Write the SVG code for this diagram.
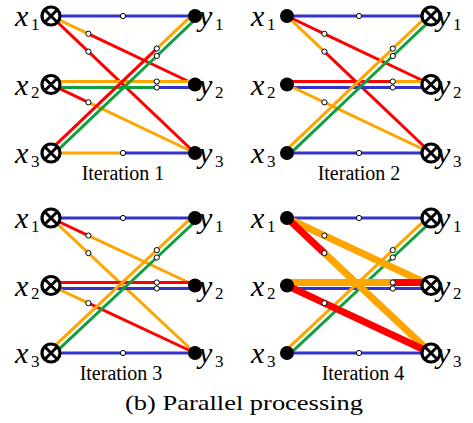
<svg xmlns="http://www.w3.org/2000/svg" width="473" height="423" viewBox="0 0 473 423">
<style>
.e line{fill:none;stroke-width:3;stroke-linecap:butt}
.b{stroke:#3333cc}.r{stroke:#ff0000}.o{stroke:#ffa500}.g{stroke:#10a040}
line.t{stroke-width:7}
</style>
<defs>
<g id="ot"><circle r="9" fill="#fff" stroke="#000" stroke-width="3.2"/><path d="M-5.5,-5.5L5.5,5.5M5.5,-5.5L-5.5,5.5" stroke="#000" stroke-width="3"/></g>
<circle id="fd" r="7" fill="#000"/>
<circle id="dt" r="2.6" fill="#fff" stroke="#000" stroke-width="1"/>
</defs>
<rect width="473" height="423" fill="#fff"/>

<g id="panel1">
<g id="p1-connectors" class="e">
<line class="b" x1="51" y1="16" x2="123" y2="16"/><line class="b" x1="123" y1="16" x2="195" y2="16"/>
<line class="o" x1="51" y1="16" x2="88.4" y2="33.8"/><line class="r" x1="88.4" y1="33.8" x2="195" y2="84.5"/>
<line class="r" x1="51" y1="16" x2="88.4" y2="51.6"/><line class="r" x1="88.4" y1="51.6" x2="195" y2="153"/>
<line class="o" x1="51" y1="81.5" x2="156.8" y2="81.5"/><line class="o" x1="156.8" y1="81.5" x2="195" y2="81.5"/>
<line class="g" x1="51" y1="87.5" x2="156.8" y2="87.5"/><line class="b" x1="156.8" y1="87.5" x2="195" y2="87.5"/>
<line class="r" x1="51" y1="84.5" x2="88.4" y2="102.3"/><line class="o" x1="88.4" y1="102.3" x2="195" y2="153"/>
<line class="r" x1="51" y1="149.3" x2="156.8" y2="48.6"/><line class="o" x1="156.8" y1="48.6" x2="195" y2="12.3"/>
<line class="g" x1="51" y1="156.7" x2="156.8" y2="56"/><line class="g" x1="156.8" y1="56" x2="195" y2="19.7"/>
<line class="o" x1="51" y1="153" x2="123" y2="153"/><line class="b" x1="123" y1="153" x2="195" y2="153"/>
<use href="#dt" x="123" y="16"/><use href="#dt" x="88.4" y="33.8"/><use href="#dt" x="88.4" y="51.6"/>
<use href="#dt" x="156.8" y="81.5"/><use href="#dt" x="156.8" y="87.5"/><use href="#dt" x="88.4" y="102.3"/>
<use href="#dt" x="156.8" y="48.6"/><use href="#dt" x="156.8" y="56"/><use href="#dt" x="123" y="153"/>
</g>
<g id="p1-x1"><use href="#ot" x="51" y="16"/><text style="font-family:'Liberation Serif',serif;font-style:italic;font-size:30px" x="15" y="26">x</text><text style="font-family:'Liberation Serif',serif;font-size:17px" x="31" y="29.5">1</text></g>
<g id="p1-x2"><use href="#ot" x="51" y="84.5"/><text style="font-family:'Liberation Serif',serif;font-style:italic;font-size:30px" x="15" y="94.5">x</text><text style="font-family:'Liberation Serif',serif;font-size:17px" x="31" y="98">2</text></g>
<g id="p1-x3"><use href="#ot" x="51" y="153"/><text style="font-family:'Liberation Serif',serif;font-style:italic;font-size:30px" x="15" y="163">x</text><text style="font-family:'Liberation Serif',serif;font-size:17px" x="31" y="166.5">3</text></g>
<g id="p1-y1"><use href="#fd" x="195" y="16"/><text style="font-family:'Liberation Serif',serif;font-style:italic;font-size:30px" x="199" y="26">y</text><text style="font-family:'Liberation Serif',serif;font-size:17px" x="215" y="29.5">1</text></g>
<g id="p1-y2"><use href="#fd" x="195" y="84.5"/><text style="font-family:'Liberation Serif',serif;font-style:italic;font-size:30px" x="199" y="94.5">y</text><text style="font-family:'Liberation Serif',serif;font-size:17px" x="215" y="98">2</text></g>
<g id="p1-y3"><use href="#fd" x="195" y="153"/><text style="font-family:'Liberation Serif',serif;font-style:italic;font-size:30px" x="199" y="163">y</text><text style="font-family:'Liberation Serif',serif;font-size:17px" x="215" y="166.5">3</text></g>
<text style="font-family:'Liberation Serif',serif;font-size:20px" text-anchor="middle" x="123" y="179.5">Iteration 1</text>
</g>

<g id="panel2" transform="translate(236,0)">
<g id="p2-connectors" class="e">
<line class="b" x1="51" y1="16" x2="123" y2="16"/><line class="b" x1="123" y1="16" x2="195" y2="16"/>
<line class="r" x1="51" y1="16" x2="88.4" y2="33.8"/><line class="r" x1="88.4" y1="33.8" x2="195" y2="84.5"/>
<line class="o" x1="51" y1="16" x2="88.4" y2="51.6"/><line class="r" x1="88.4" y1="51.6" x2="195" y2="153"/>
<line class="r" x1="51" y1="81.5" x2="156.8" y2="81.5"/><line class="o" x1="156.8" y1="81.5" x2="195" y2="81.5"/>
<line class="b" x1="51" y1="87.5" x2="156.8" y2="87.5"/><line class="b" x1="156.8" y1="87.5" x2="195" y2="87.5"/>
<line class="o" x1="51" y1="84.5" x2="88.4" y2="102.3"/><line class="o" x1="88.4" y1="102.3" x2="195" y2="153"/>
<line class="o" x1="51" y1="149.3" x2="156.8" y2="48.6"/><line class="o" x1="156.8" y1="48.6" x2="195" y2="12.3"/>
<line class="g" x1="51" y1="156.7" x2="156.8" y2="56"/><line class="g" x1="156.8" y1="56" x2="195" y2="19.7"/>
<line class="b" x1="51" y1="153" x2="123" y2="153"/><line class="b" x1="123" y1="153" x2="195" y2="153"/>
<use href="#dt" x="123" y="16"/><use href="#dt" x="88.4" y="33.8"/><use href="#dt" x="88.4" y="51.6"/>
<use href="#dt" x="156.8" y="81.5"/><use href="#dt" x="156.8" y="87.5"/><use href="#dt" x="88.4" y="102.3"/>
<use href="#dt" x="156.8" y="48.6"/><use href="#dt" x="156.8" y="56"/><use href="#dt" x="123" y="153"/>
</g>
<g id="p2-x1"><use href="#fd" x="51" y="16"/><text style="font-family:'Liberation Serif',serif;font-style:italic;font-size:30px" x="15" y="26">x</text><text style="font-family:'Liberation Serif',serif;font-size:17px" x="31" y="29.5">1</text></g>
<g id="p2-x2"><use href="#fd" x="51" y="84.5"/><text style="font-family:'Liberation Serif',serif;font-style:italic;font-size:30px" x="15" y="94.5">x</text><text style="font-family:'Liberation Serif',serif;font-size:17px" x="31" y="98">2</text></g>
<g id="p2-x3"><use href="#fd" x="51" y="153"/><text style="font-family:'Liberation Serif',serif;font-style:italic;font-size:30px" x="15" y="163">x</text><text style="font-family:'Liberation Serif',serif;font-size:17px" x="31" y="166.5">3</text></g>
<g id="p2-y1"><use href="#ot" x="195" y="16"/><text style="font-family:'Liberation Serif',serif;font-style:italic;font-size:30px" x="201" y="26">y</text><text style="font-family:'Liberation Serif',serif;font-size:17px" x="217" y="29.5">1</text></g>
<g id="p2-y2"><use href="#ot" x="195" y="84.5"/><text style="font-family:'Liberation Serif',serif;font-style:italic;font-size:30px" x="201" y="94.5">y</text><text style="font-family:'Liberation Serif',serif;font-size:17px" x="217" y="98">2</text></g>
<g id="p2-y3"><use href="#ot" x="195" y="153"/><text style="font-family:'Liberation Serif',serif;font-style:italic;font-size:30px" x="201" y="163">y</text><text style="font-family:'Liberation Serif',serif;font-size:17px" x="217" y="166.5">3</text></g>
<text style="font-family:'Liberation Serif',serif;font-size:20px" text-anchor="middle" x="123" y="179.5">Iteration 2</text>
</g>

<g id="panel3">
<g id="p3-connectors" class="e">
<line class="b" x1="51" y1="218" x2="123" y2="218"/><line class="b" x1="123" y1="218" x2="195" y2="218"/>
<line class="r" x1="51" y1="218" x2="88.4" y2="235.6"/><line class="o" x1="88.4" y1="235.6" x2="195" y2="285.5"/>
<line class="o" x1="51" y1="218" x2="88.4" y2="253.1"/><line class="o" x1="88.4" y1="253.1" x2="195" y2="353"/>
<line class="r" x1="51" y1="282.5" x2="156.8" y2="282.5"/><line class="r" x1="156.8" y1="282.5" x2="195" y2="282.5"/>
<line class="b" x1="51" y1="288.5" x2="156.8" y2="288.5"/><line class="b" x1="156.8" y1="288.5" x2="195" y2="288.5"/>
<line class="o" x1="51" y1="285.5" x2="88.4" y2="303.1"/><line class="r" x1="88.4" y1="303.1" x2="195" y2="353"/>
<line class="o" x1="51" y1="349.3" x2="156.8" y2="250.1"/><line class="o" x1="156.8" y1="250.1" x2="195" y2="214.3"/>
<line class="g" x1="51" y1="356.7" x2="156.8" y2="257.5"/><line class="g" x1="156.8" y1="257.5" x2="195" y2="221.7"/>
<line class="b" x1="51" y1="353" x2="123" y2="353"/><line class="b" x1="123" y1="353" x2="195" y2="353"/>
<use href="#dt" x="123" y="218"/><use href="#dt" x="88.4" y="235.6"/><use href="#dt" x="88.4" y="253.1"/>
<use href="#dt" x="156.8" y="282.5"/><use href="#dt" x="156.8" y="288.5"/><use href="#dt" x="88.4" y="303.1"/>
<use href="#dt" x="156.8" y="250.1"/><use href="#dt" x="156.8" y="257.5"/><use href="#dt" x="123" y="353"/>
</g>
<g id="p3-x1"><use href="#ot" x="51" y="218"/><text style="font-family:'Liberation Serif',serif;font-style:italic;font-size:30px" x="15" y="228">x</text><text style="font-family:'Liberation Serif',serif;font-size:17px" x="31" y="231.5">1</text></g>
<g id="p3-x2"><use href="#ot" x="51" y="285.5"/><text style="font-family:'Liberation Serif',serif;font-style:italic;font-size:30px" x="15" y="295.5">x</text><text style="font-family:'Liberation Serif',serif;font-size:17px" x="31" y="299">2</text></g>
<g id="p3-x3"><use href="#ot" x="51" y="353"/><text style="font-family:'Liberation Serif',serif;font-style:italic;font-size:30px" x="15" y="363">x</text><text style="font-family:'Liberation Serif',serif;font-size:17px" x="31" y="366.5">3</text></g>
<g id="p3-y1"><use href="#fd" x="195" y="218"/><text style="font-family:'Liberation Serif',serif;font-style:italic;font-size:30px" x="199" y="228">y</text><text style="font-family:'Liberation Serif',serif;font-size:17px" x="215" y="231.5">1</text></g>
<g id="p3-y2"><use href="#fd" x="195" y="285.5"/><text style="font-family:'Liberation Serif',serif;font-style:italic;font-size:30px" x="199" y="295.5">y</text><text style="font-family:'Liberation Serif',serif;font-size:17px" x="215" y="299">2</text></g>
<g id="p3-y3"><use href="#fd" x="195" y="353"/><text style="font-family:'Liberation Serif',serif;font-style:italic;font-size:30px" x="199" y="363">y</text><text style="font-family:'Liberation Serif',serif;font-size:17px" x="215" y="366.5">3</text></g>
<text style="font-family:'Liberation Serif',serif;font-size:20px" text-anchor="middle" x="121" y="380">Iteration 3</text>
</g>

<g id="panel4" transform="translate(236,0)">
<g id="p4-connectors" class="e">
<line class="b" x1="51" y1="218" x2="123" y2="218"/><line class="b" x1="123" y1="218" x2="195" y2="218"/>
<line class="b" x1="51" y1="288.5" x2="156.8" y2="288.5"/><line class="b" x1="156.8" y1="288.5" x2="195" y2="288.5"/>
<line class="o" x1="51" y1="349.3" x2="156.8" y2="250.1"/><line class="o" x1="156.8" y1="250.1" x2="195" y2="214.3"/>
<line class="g" x1="51" y1="356.7" x2="156.8" y2="257.5"/><line class="g" x1="156.8" y1="257.5" x2="195" y2="221.7"/>
<line class="b" x1="51" y1="353" x2="123" y2="353"/><line class="b" x1="123" y1="353" x2="195" y2="353"/>
<line class="o t" x1="51" y1="218" x2="88.4" y2="235.6"/><line class="o t" x1="88.4" y1="235.6" x2="195" y2="285.5"/>
<line class="r t" x1="51" y1="218" x2="88.4" y2="253.1"/><line class="o t" x1="88.4" y1="253.1" x2="195" y2="353"/>
<line class="o t" x1="51" y1="282.5" x2="156.8" y2="282.5"/><line class="r t" x1="156.8" y1="282.5" x2="195" y2="282.5"/>
<line class="r t" x1="51" y1="285.5" x2="88.4" y2="303.1"/><line class="r t" x1="88.4" y1="303.1" x2="195" y2="353"/>
<use href="#dt" x="123" y="218"/><use href="#dt" x="88.4" y="235.6"/><use href="#dt" x="88.4" y="253.1"/>
<use href="#dt" x="156.8" y="282.5"/><use href="#dt" x="156.8" y="288.5"/><use href="#dt" x="88.4" y="303.1"/>
<use href="#dt" x="156.8" y="250.1"/><use href="#dt" x="156.8" y="257.5"/><use href="#dt" x="123" y="353"/>
</g>
<g id="p4-x1"><use href="#fd" x="51" y="218"/><text style="font-family:'Liberation Serif',serif;font-style:italic;font-size:30px" x="15" y="228">x</text><text style="font-family:'Liberation Serif',serif;font-size:17px" x="31" y="231.5">1</text></g>
<g id="p4-x2"><use href="#fd" x="51" y="285.5"/><text style="font-family:'Liberation Serif',serif;font-style:italic;font-size:30px" x="15" y="295.5">x</text><text style="font-family:'Liberation Serif',serif;font-size:17px" x="31" y="299">2</text></g>
<g id="p4-x3"><use href="#fd" x="51" y="353"/><text style="font-family:'Liberation Serif',serif;font-style:italic;font-size:30px" x="15" y="363">x</text><text style="font-family:'Liberation Serif',serif;font-size:17px" x="31" y="366.5">3</text></g>
<g id="p4-y1"><use href="#ot" x="195" y="218"/><text style="font-family:'Liberation Serif',serif;font-style:italic;font-size:30px" x="201" y="228">y</text><text style="font-family:'Liberation Serif',serif;font-size:17px" x="217" y="231.5">1</text></g>
<g id="p4-y2"><use href="#ot" x="195" y="285.5"/><text style="font-family:'Liberation Serif',serif;font-style:italic;font-size:30px" x="201" y="295.5">y</text><text style="font-family:'Liberation Serif',serif;font-size:17px" x="217" y="299">2</text></g>
<g id="p4-y3"><use href="#ot" x="195" y="353"/><text style="font-family:'Liberation Serif',serif;font-style:italic;font-size:30px" x="201" y="363">y</text><text style="font-family:'Liberation Serif',serif;font-size:17px" x="217" y="366.5">3</text></g>
<text style="font-family:'Liberation Serif',serif;font-size:20px" text-anchor="middle" x="127" y="380">Iteration 4</text>
</g>

<text style="font-family:'Liberation Serif',serif;font-size:22px" x="125" y="410" textLength="238" lengthAdjust="spacingAndGlyphs">(b) Parallel processing</text>
</svg>
